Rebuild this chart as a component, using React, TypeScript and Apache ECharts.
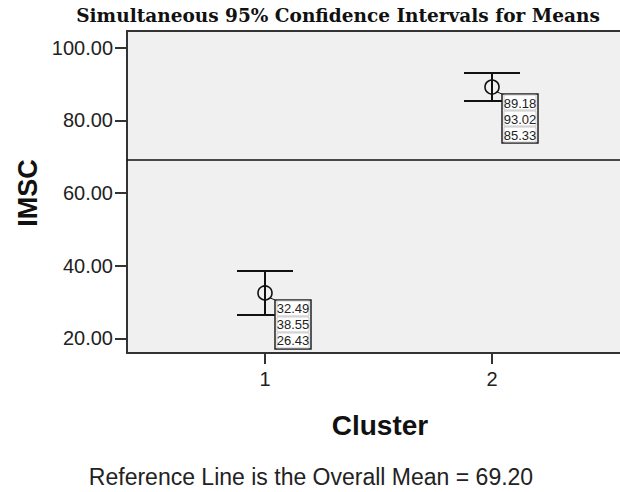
import React, { useEffect, useRef } from "react";
import * as echarts from "echarts";

const clusters = [1, 2];
const means = [32.49, 89.18];
const upperBounds = [38.55, 93.02];
const lowerBounds = [26.43, 85.33];
const overallMean = 69.2;
const yTicks = [20, 40, 60, 80, 100];
const xTicks = [1, 2];
const titleText = "Simultaneous 95% Confidence Intervals for Means";
const xName = "Cluster";
const yName = "IMSC";
const footerText = "Reference Line is the Overall Mean = 69.20";

export default function App() {
  const ref = useRef<HTMLDivElement>(null);
  useEffect(() => {
    document.body.style.margin = "0";
    const chart = echarts.init(ref.current!, null, { renderer: "svg" });
    const data = clusters.map((c, i) => [c, means[i], upperBounds[i], lowerBounds[i]]);
    chart.setOption({
      animation: false,
      grid: {
        left: 127,
        top: 31,
        width: 520,
        height: 322,
        outerBoundsMode: "none",
        containLabel: false,
        show: true,
        backgroundColor: "#f0f0f0",
        borderColor: "#333",
        borderWidth: 2,
      },
      xAxis: {
        type: "value",
        min: 0.3921,
        max: 2.6828,
        splitLine: { show: false },
        axisLine: { show: true, lineStyle: { color: "#333", width: 2 } },
        axisTick: { show: true, length: 11, customValues: xTicks, lineStyle: { color: "#333", width: 2 } },
        axisLabel: {
          customValues: xTicks,
          formatter: (v: number) => String(v),
          color: "#222",
          fontFamily: "Liberation Sans",
          fontSize: 20,
          margin: 16,
        },
      },
      yAxis: {
        type: "value",
        min: 15.95,
        max: 104.6,
        splitLine: { show: false },
        axisLine: { show: true, lineStyle: { color: "#333", width: 2 } },
        axisTick: { show: true, length: 12, customValues: yTicks, lineStyle: { color: "#333", width: 2 } },
        axisLabel: {
          customValues: yTicks,
          formatter: (v: number) => v.toFixed(2),
          color: "#222",
          fontFamily: "Liberation Sans",
          fontSize: 20,
          margin: 14,
        },
      },
      graphic: [
        {
          type: "text",
          x: 338,
          y: 15,
          style: {
            text: titleText,
            fontFamily: "DejaVu Serif",
            fontWeight: "bold",
            fontSize: 18.5,
            fill: "#111",
            align: "center",
            verticalAlign: "middle",
          },
        },
        {
          type: "text",
          x: 28,
          y: 193,
          rotation: Math.PI / 2,
          style: {
            text: yName,
            fontFamily: "Liberation Sans",
            fontWeight: "bold",
            fontSize: 27,
            fill: "#111",
            align: "center",
            verticalAlign: "middle",
          },
        },
        {
          type: "text",
          x: 380,
          y: 425,
          style: {
            text: xName,
            fontFamily: "Liberation Sans",
            fontWeight: "bold",
            fontSize: 28,
            fill: "#111",
            align: "center",
            verticalAlign: "middle",
          },
        },
        {
          type: "text",
          x: 311,
          y: 477,
          style: {
            text: footerText,
            fontFamily: "Liberation Sans",
            fontSize: 23,
            fill: "#222",
            align: "center",
            verticalAlign: "middle",
          },
        },
      ],
      series: [
        {
          type: "custom",
          data,
          renderItem: (params: any, api: any) => {
            const x = api.value(0);
            const m = api.value(1);
            const u = api.value(2);
            const l = api.value(3);
            const pm = api.coord([x, m]);
            const pu = api.coord([x, u]);
            const pl = api.coord([x, l]);
            const half = 28;
            const ls = { stroke: "#111", lineWidth: 2 };
            const bx = pm[0] + 10;
            const by = pm[1] + 7;
            const bw = 36;
            const rowH = 16;
            const vals = [m, u, l];
            const children: any[] = [
              { type: "line", shape: { x1: pu[0], y1: pu[1], x2: pl[0], y2: pl[1] }, style: ls },
              { type: "line", shape: { x1: pu[0] - half, y1: pu[1], x2: pu[0] + half, y2: pu[1] }, style: ls },
              { type: "line", shape: { x1: pl[0] - half, y1: pl[1], x2: pl[0] + half, y2: pl[1] }, style: ls },
              { type: "circle", shape: { cx: pm[0], cy: pm[1], r: 7 }, style: { fill: "none", stroke: "#111", lineWidth: 1.6 } },
              { type: "line", shape: { x1: pm[0] + 5, y1: pm[1] + 5, x2: bx, y2: by }, style: { stroke: "#111", lineWidth: 1 } },
              { type: "rect", shape: { x: bx, y: by, width: bw, height: rowH * 3 + 1 }, style: { fill: "#fff", stroke: "#222", lineWidth: 1.5 } },
            ];
            vals.forEach((v, i) => {
              children.push({
                type: "rect",
                shape: { x: bx + 2, y: by + 1 + i * rowH, width: bw - 4, height: rowH - 1 },
                style: { fill: "#fff", stroke: "#bbb", lineWidth: 0.8 },
              });
              children.push({
                type: "text",
                x: bx + bw / 2,
                y: by + 1 + i * rowH + rowH / 2,
                style: {
                  text: v.toFixed(2),
                  fontFamily: "Liberation Sans",
                  fontSize: 13,
                  fill: "#222",
                  align: "center",
                  verticalAlign: "middle",
                },
              });
            });
            return { type: "group", children };
          },
          markLine: {
            silent: true,
            symbol: ["none", "none"],
            label: { show: false },
            lineStyle: { color: "#111", width: 1.5, type: "solid" },
            data: [{ yAxis: overallMean }],
          },
        },
      ],
    });
    return () => chart.dispose();
  }, []);
  return <div ref={ref} style={{ width: 620, height: 492 }} />;
}
